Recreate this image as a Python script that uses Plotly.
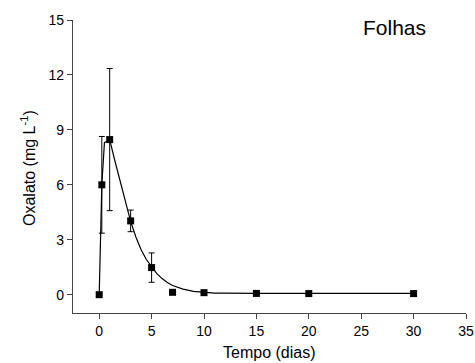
import plotly.graph_objects as go

# Measured data
tempo = [0, 0.25, 1, 3, 5, 7, 10, 15, 20, 30]
oxalato = [0.0, 6.0, 8.47, 4.03, 1.48, 0.13, 0.11, 0.07, 0.06, 0.06]
erro = [0, 2.64, 3.88, 0.59, 0.8, 0, 0, 0, 0, 0]

# Fitted curve
curva_x = [0, 0.25, 0.5, 1, 1.5, 2, 2.5, 3, 3.5, 4, 4.5, 5, 5.5, 6, 6.5, 7, 8, 9, 10, 11, 12, 13, 15, 20, 30]
curva_y = [0.0, 6.0, 8.3, 8.47, 7.3, 6.2, 5.05, 4.0, 3.15, 2.45, 1.92, 1.5, 1.15, 0.88, 0.66, 0.5, 0.3, 0.18, 0.12, 0.09, 0.08, 0.07, 0.07, 0.07, 0.07]

FONT = "Liberation Sans, Arial, sans-serif"
W, H = 475, 363
ML, MR, MT, MB = 73, 9, 20, 50

fig = go.Figure()
fig.add_trace(go.Scatter(x=curva_x, y=curva_y, mode="lines",
                         line=dict(color="black", width=1.2), hoverinfo="skip"))
fig.add_trace(go.Scatter(x=tempo, y=oxalato, mode="markers",
                         marker=dict(symbol="square", size=7, color="black"),
                         error_y=dict(type="data", array=erro, color="black",
                                      thickness=1, width=3, visible=True)))

axis_common = dict(showgrid=False, zeroline=False, showline=True, linecolor="#444",
                   linewidth=1.2, ticks="outside", ticklen=5, tickcolor="#444",
                   tickwidth=1, automargin=False, ticklabeloverflow="allow",
                   tickfont=dict(family=FONT, size=14, color="black"))

pw, ph = W - ML - MR, H - MT - MB

def px(x):
    return (x - ML) / pw

def py(y):
    return (H - MB - y) / ph

fig.update_layout(
    width=W, height=H,
    margin=dict(l=ML, r=MR, t=MT, b=MB),
    paper_bgcolor="white", plot_bgcolor="white",
    showlegend=False,
    xaxis=dict(range=[-2.5, 35], tickvals=[0, 5, 10, 15, 20, 25, 30, 35],
               **axis_common),
    yaxis=dict(range=[-1, 15], tickvals=[0, 3, 6, 9, 12, 15],
               **axis_common),
    annotations=[
        dict(text="Folhas", x=px(394.5), y=py(27), xref="paper", yref="paper",
             xanchor="center", yanchor="middle", showarrow=False,
             font=dict(family=FONT, size=21, color="black")),
        dict(text="Tempo (dias)", x=px(269), y=py(352), xref="paper", yref="paper",
             xanchor="center", yanchor="middle",
             showarrow=False, font=dict(family=FONT, size=16, color="black")),
        dict(text="Oxalato (mg L<sup>-1</sup>)", x=px(28), y=py(168), xref="paper", yref="paper",
             xanchor="center", yanchor="middle",
             showarrow=False, textangle=-90, font=dict(family=FONT, size=16, color="black")),
    ],
)

fig.write_html("out.html", config={"displayModeBar": False},
               post_script="document.body.style.margin='0';document.body.style.overflow='hidden';")
